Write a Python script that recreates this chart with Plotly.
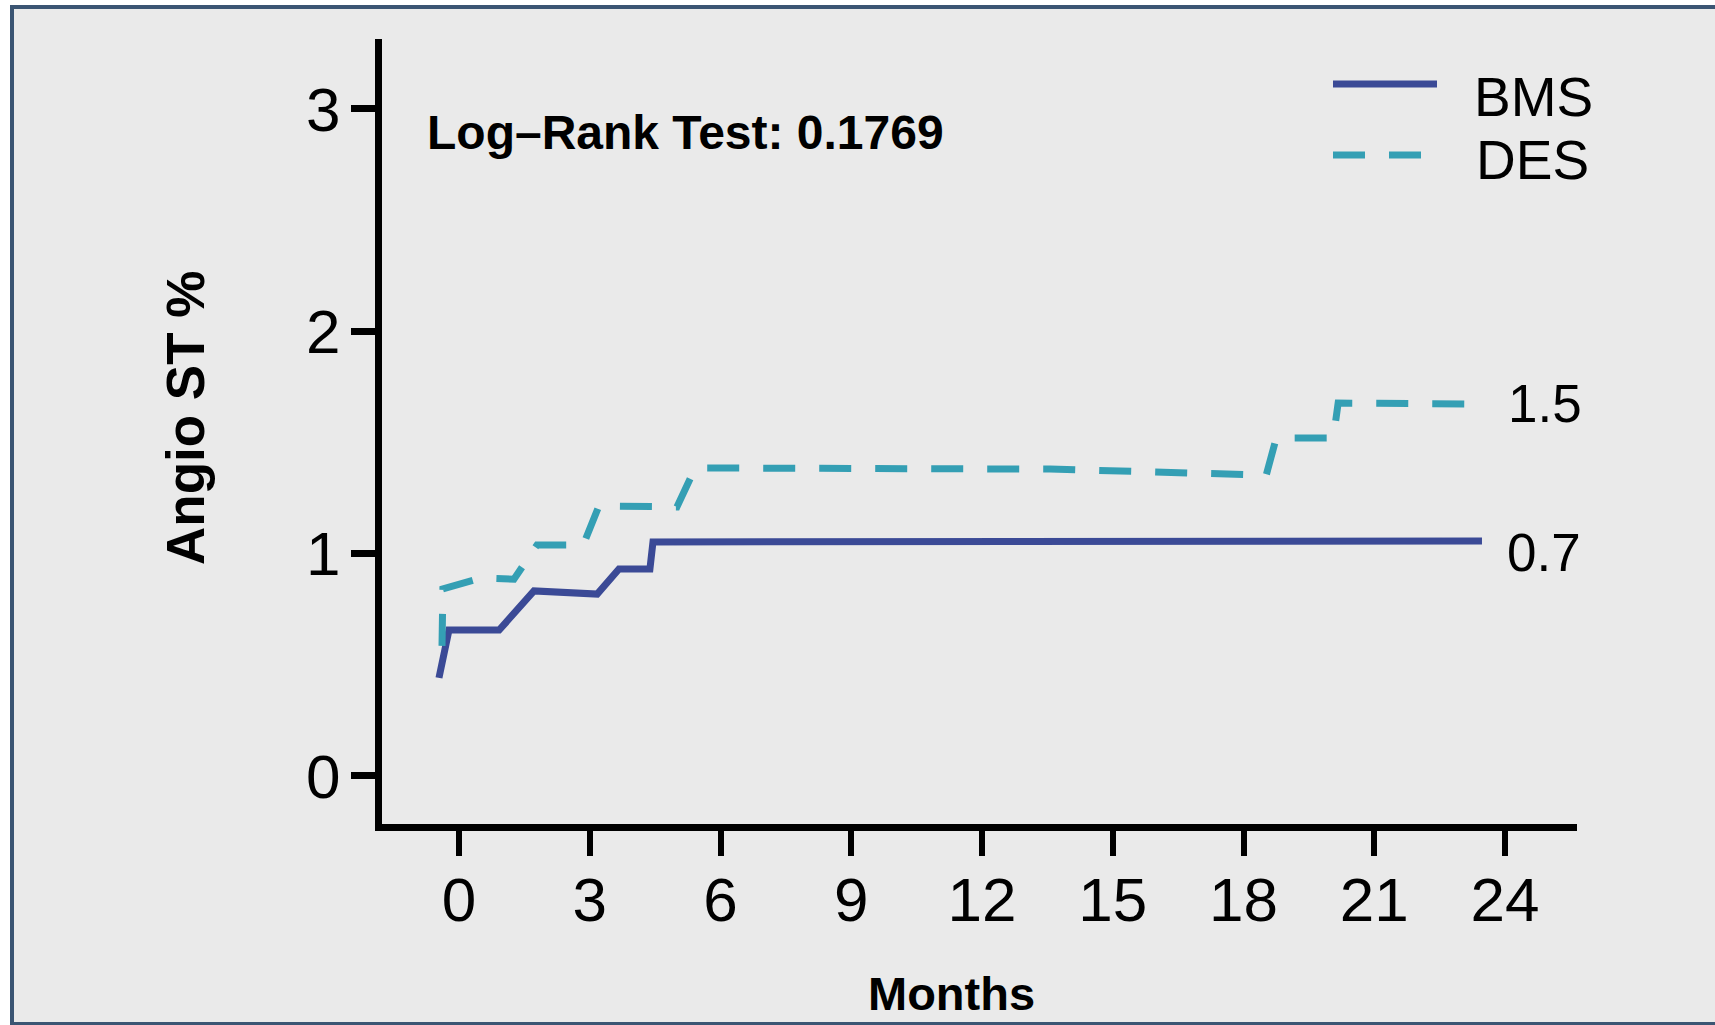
import plotly.graph_objects as go

# ---------------- data ----------------
bms_months = [-0.46, -0.23, 0.92, 1.72, 3.17, 3.67, 4.38, 4.45, 23.47]
bms_values = [0.441, 0.656, 0.656, 0.832, 0.818, 0.931, 0.931, 1.052, 1.057]

des_months = [-0.39, -0.37, 0.50, 1.26, 1.79, 2.85, 3.21, 5.00, 5.42, 13.56, 18.52, 18.75, 20.06, 20.17, 23.15]
des_values = [0.585, 0.841, 0.890, 0.885, 1.039, 1.039, 1.214, 1.210, 1.385, 1.380, 1.353, 1.520, 1.520, 1.677, 1.673]

x_ticks = [0, 3, 6, 9, 12, 15, 18, 21, 24]
y_ticks = [0, 1, 2, 3]
end_labels = {"BMS": "0.7", "DES": "1.5"}
test_text = "Log\u2013Rank Test: 0.1769"

# ---------------- style ----------------
W, H = 1715, 1025
L, R, T, B = 382, 1577, 39, 824   # plot area in pixels
BMS_COLOR = "#3B4A96"
DES_COLOR = "#349FB4"
FONT = "Liberation Sans, Arial, Helvetica, sans-serif"


def px(x):
    return (x - L) / (R - L)


def py(y):
    return (B - y) / (B - T)


fig = go.Figure()
fig.add_trace(go.Scatter(x=bms_months, y=bms_values, mode="lines", name="BMS",
                         line=dict(color=BMS_COLOR, width=7)))
fig.add_trace(go.Scatter(x=des_months, y=des_values, mode="lines", name="DES",
                         line=dict(color=DES_COLOR, width=7, dash="32px,24px")))

annotations = [
    dict(text="<b>" + test_text + "</b>", x=px(685), y=py(132), xref="paper", yref="paper",
         xanchor="center", yanchor="middle", showarrow=False, font=dict(size=48, color="black")),
    dict(text=end_labels["DES"], x=px(1506), y=py(403), xref="paper", yref="paper",
         xanchor="left", yanchor="middle", showarrow=False, font=dict(size=53, color="black")),
    dict(text=end_labels["BMS"], x=px(1505), y=py(552), xref="paper", yref="paper",
         xanchor="left", yanchor="middle", showarrow=False, font=dict(size=53, color="black")),
    dict(text="BMS", x=px(1472), y=py(97), xref="paper", yref="paper",
         xanchor="left", yanchor="middle", showarrow=False, font=dict(size=55, color="black")),
    dict(text="DES", x=px(1474), y=py(160), xref="paper", yref="paper",
         xanchor="left", yanchor="middle", showarrow=False, font=dict(size=55, color="black")),
    dict(text="<b>Months</b>", x=px(951), y=py(993), xref="paper", yref="paper",
         xanchor="center", yanchor="middle", showarrow=False, font=dict(size=47, color="black")),
    dict(text="<b>Angio ST %</b>", x=px(185), y=py(418), xref="paper", yref="paper",
         xanchor="center", yanchor="middle", showarrow=False, textangle=-90,
         font=dict(size=53, color="black")),
]

shapes = [
    # panel background with border
    dict(type="rect", xref="paper", yref="paper", x0=px(12), x1=px(1735), y0=py(1024), y1=py(7),
         fillcolor="#EAEAEA", line=dict(color="#3B5573", width=4), layer="below"),
    # legend keys
    dict(type="line", xref="paper", yref="paper", x0=px(1333), x1=px(1437), y0=py(84), y1=py(84),
         line=dict(color=BMS_COLOR, width=7)),
    dict(type="line", xref="paper", yref="paper", x0=px(1333), x1=px(1421), y0=py(155), y1=py(155),
         line=dict(color=DES_COLOR, width=7, dash="32px,24px")),
]

fig.update_layout(
    width=W, height=H,
    margin=dict(l=L, r=W - R, t=T, b=H - B, pad=0),
    paper_bgcolor="white",
    plot_bgcolor="rgba(0,0,0,0)",
    showlegend=False,
    font=dict(family=FONT, color="black"),
    annotations=annotations,
    shapes=shapes,
    xaxis=dict(range=[-1.767, 25.65], tickmode="array", tickvals=x_ticks,
               ticktext=[str(t) for t in x_ticks],
               showline=True, linecolor="black", linewidth=7,
               ticks="outside", ticklen=25, tickwidth=6, tickcolor="black",
               showgrid=False, zeroline=False, tickfont=dict(size=62),
               ticklabelstandoff=-9),
    yaxis=dict(range=[-0.216, 3.314], tickmode="array", tickvals=y_ticks,
               ticktext=[str(t) for t in y_ticks],
               showline=True, linecolor="black", linewidth=7,
               ticks="outside", ticklen=24, tickwidth=7, tickcolor="black",
               showgrid=False, zeroline=False, tickfont=dict(size=62),
               ticklabelstandoff=-2),
)

fig.write_html("out.html")
